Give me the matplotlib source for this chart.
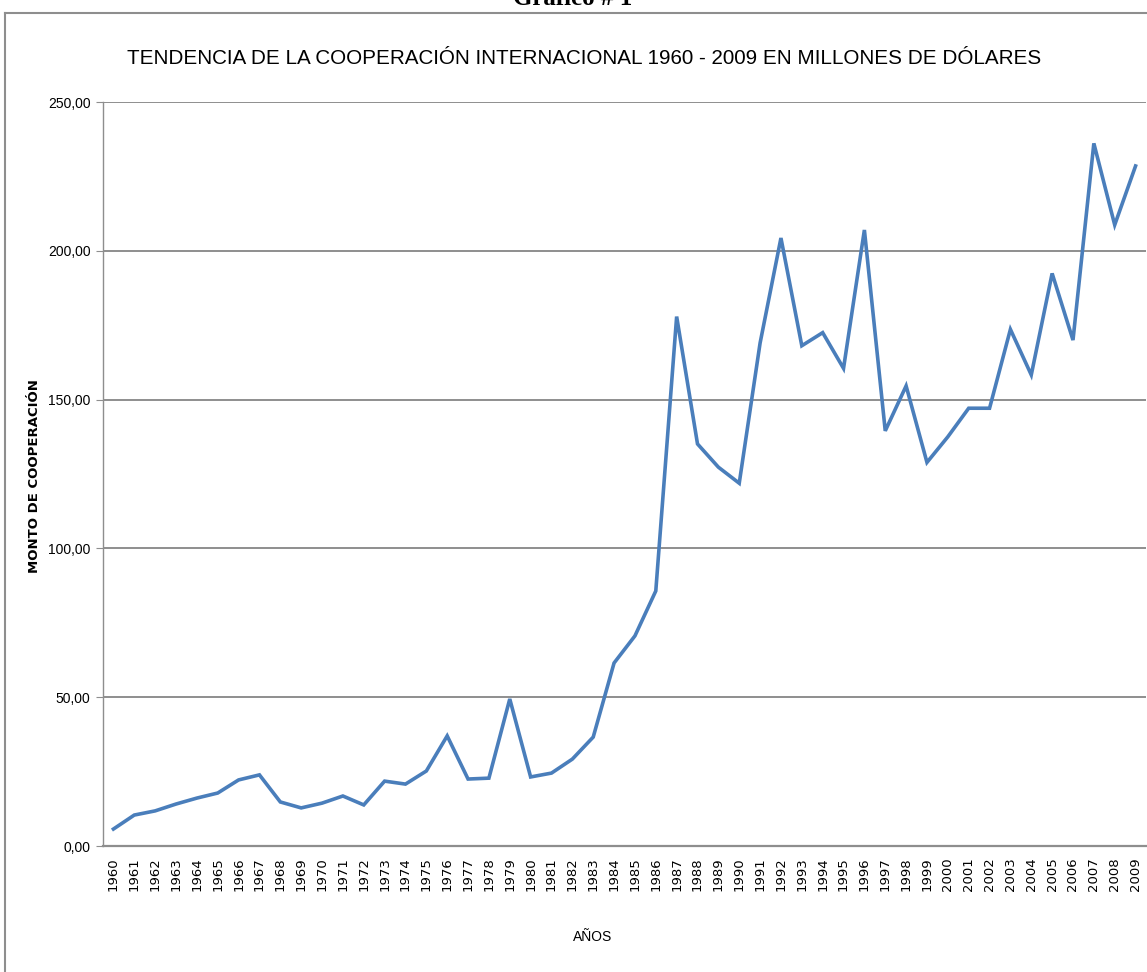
# Tendencia de la cooperación internacional 1960-2009
import matplotlib
matplotlib.use("Agg")
import matplotlib.pyplot as plt
from matplotlib import font_manager
from matplotlib.lines import Line2D

# Datos (millones de dólares)
anios = [str(a) for a in range(1960, 2010)]
montos = [5.7, 10.4, 11.8, 14.1, 16.1, 17.8, 22.2, 23.9, 14.8, 12.8,
          14.4, 16.8, 13.8, 21.8, 20.8, 25.2, 37.0, 22.5, 22.8, 49.4,
          23.2, 24.5, 29.2, 36.6, 61.5, 70.6, 85.7, 177.9, 135.1, 127.3,
          121.9, 169.0, 204.3, 168.1, 172.5, 160.5, 207.0, 139.5, 154.6, 128.9,
          137.5, 147.1, 147.1, 173.6, 158.3, 192.4, 170.0, 236.1, 208.7, 228.5]
marcas_y = [0, 50, 100, 150, 200, 250]

titulo = "TENDENCIA DE LA COOPERACIÓN INTERNACIONAL 1960 - 2009 EN MILLONES DE DÓLARES"

# Fuente estrecha si está instalada
nombres = {f.name for f in font_manager.fontManager.ttflist}
estrecha = "Liberation Sans Narrow" if "Liberation Sans Narrow" in nombres else "Liberation Sans"

W, H = 1147, 972
fig = plt.figure(figsize=(W / 100, H / 100), dpi=100)
ax = fig.add_axes([103 / W, 126 / H, (1146 - 103) / W, (846 - 102) / H])

gris = "#8E8E8E"
ax.plot(range(len(anios)), montos, color="#4A7EBB", lw=2.6, solid_joinstyle="miter")

ax.set_xlim(-0.5, len(anios) - 0.5)
ax.set_ylim(0, 250)
ax.set_yticks(marcas_y)
ax.set_yticklabels([f"{v:.2f}".replace(".", ",") for v in marcas_y],
                   fontfamily=estrecha, fontsize=10)
ax.set_xticks(range(len(anios)))
ax.set_xticklabels(anios, rotation=90, fontfamily="DejaVu Sans", fontsize=9.5)
ax.tick_params(axis="x", length=0, pad=8)
ax.tick_params(axis="y", length=5, color=gris, pad=4)

ax.yaxis.grid(True, color=gris, lw=1.4)
ax.set_axisbelow(True)
for s in ("top", "right"):
    ax.spines[s].set_visible(False)
ax.spines["left"].set_color(gris)
ax.spines["left"].set_linewidth(1.0)
ax.spines["bottom"].set_color(gris)
ax.spines["bottom"].set_linewidth(1.6)

# Textos
t = fig.text(584 / W, 1 - 58 / H, titulo, ha="center", va="center",
             fontfamily=estrecha, fontsize=19)
# ajustar el tamaño del título al ancho del original (~912 px)
rend = fig.canvas.get_renderer()
ancho = t.get_window_extent(rend).width
t.set_fontsize(19 * 912 / ancho)

fig.text(35 / W, 1 - 476 / H, "MONTO DE COOPERACIÓN", rotation=90,
         ha="center", va="center", fontfamily="DejaVu Sans",
         fontweight="bold", fontsize=9.5)
fig.text(593 / W, 1 - 937 / H, "AÑOS", ha="center", va="center",
         fontfamily=estrecha, fontsize=10)
fig.text(573 / W, 1 - 5 / H, "Gráfico # 1", ha="center", va="baseline",
         fontfamily="Liberation Serif", fontweight="bold", fontsize=18)

# Marco del gráfico
x0, y0 = 5 / W, 1 - 13 / H
fig.add_artist(Line2D([x0, x0], [0, y0], transform=fig.transFigure, color=gris, lw=1.5))
fig.add_artist(Line2D([x0, 1], [y0, y0], transform=fig.transFigure, color=gris, lw=1.5))

fig.savefig("out.png", dpi=100)
